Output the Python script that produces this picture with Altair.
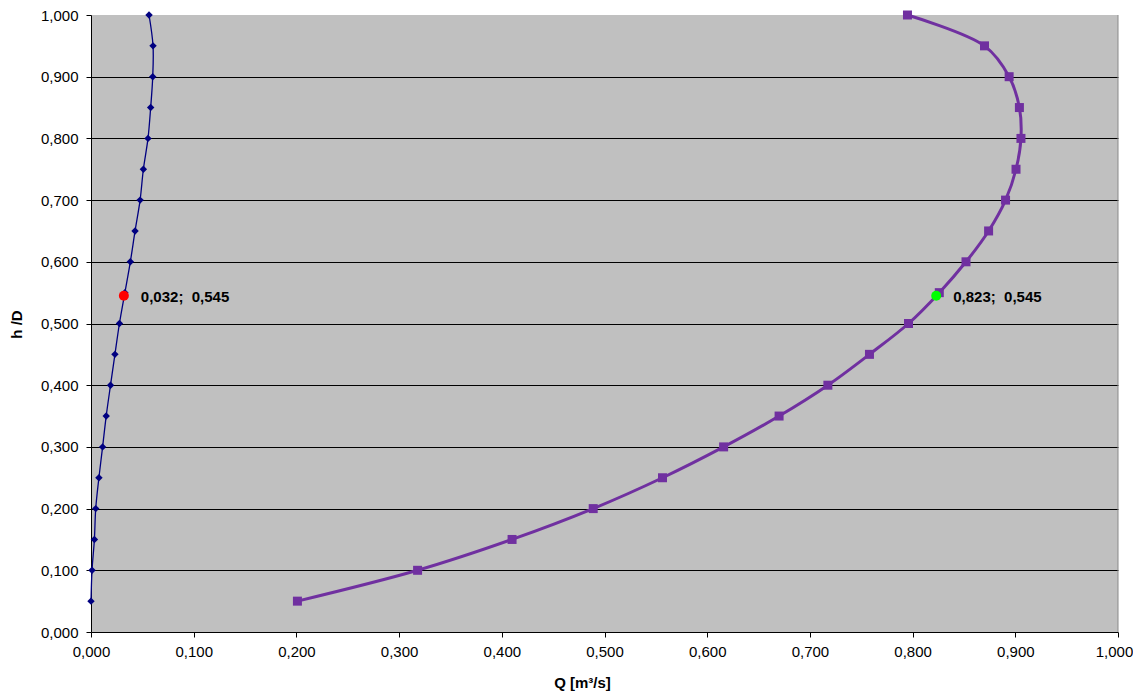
import altair as alt
import pandas as pd

# relative filling h/D
h_d = [0.05, 0.10, 0.15, 0.20, 0.25, 0.30, 0.35, 0.40, 0.45, 0.50,
       0.55, 0.60, 0.65, 0.70, 0.75, 0.80, 0.85, 0.90, 0.95, 1.00]
# flow Q [m3/s] for the small pipe (navy diamonds)
q_small = [0.000, 0.001, 0.0033, 0.0046, 0.0077, 0.0113, 0.0148, 0.019, 0.0233, 0.0277,
           0.033, 0.0383, 0.0429, 0.0478, 0.051, 0.0555, 0.0581, 0.0601, 0.0604, 0.0565]
# flow Q [m3/s] for the large pipe (purple squares)
q_large = [0.201, 0.318, 0.410, 0.489, 0.5565, 0.616, 0.670, 0.7175, 0.758, 0.796,
           0.826, 0.852, 0.874, 0.8905, 0.9007, 0.9055, 0.904, 0.894, 0.870, 0.795]

# highlighted operating points
op_q = [0.032, 0.823]
op_h = [0.545, 0.545]
op_label = ["0,032;\u00a0 0,545", "0,823;\u00a0 0,545"]
op_color = ["#FF0000", "#00FF00"]

ticks = [0.0, 0.1, 0.2, 0.3, 0.4, 0.5, 0.6, 0.7, 0.8, 0.9, 1.0]
border_q = [1.0]

FONT = "Liberation Sans"

small_df = pd.DataFrame({"h": h_d, "q": q_small})
large_df = pd.DataFrame({"h": h_d, "q": q_large})
op_df = pd.DataFrame({"q": op_q, "h": op_h, "label": op_label, "color": op_color})
border_df = pd.DataFrame({"q": border_q})

lab_expr = "replace(format(datum.value, '.3f'), '.', ',')"

x_scale = alt.Scale(domain=[0, 1], nice=False, zero=False, padding=0)
y_scale = alt.Scale(domain=[0, 1], nice=False, zero=False, padding=0)

x_axis = alt.Axis(
    values=ticks, labelExpr=lab_expr, grid=False, labelFlush=False, labelOverlap=False,
    labelOffset={"condition": {"test": "datum.value >= 1", "value": -4}, "value": 0},
    title="Q [m³/s]", titleFont=FONT, titleFontSize=15, titleFontWeight="bold",
    titleColor="#000000", titleX=491, titleY=50, titleAlign="center", titleBaseline="middle",
    labelFont=FONT, labelFontSize=15, labelColor="#000000", labelPadding=7,
    tickSize=5, tickColor="#000000", domainColor="#000000", domainWidth=1,
)
y_axis = alt.Axis(
    values=ticks, labelExpr=lab_expr, grid=True, labelFlush=False, labelOverlap=False,
    gridColor={"condition": {"test": "datum.value <= 0 || datum.value >= 1", "value": "transparent"},
               "value": "#000000"},
    gridWidth=1,
    title="h /D", titleFont=FONT, titleFontSize=15, titleFontWeight="bold",
    titleColor="#000000", titleX=-75, titleY=309, titleAngle=-90,
    titleAlign="center", titleBaseline="middle",
    labelFont=FONT, labelFontSize=15, labelColor="#000000", labelPadding=8,
    tickSize=5, tickColor="#000000", domainColor="#000000", domainWidth=1,
)

X = alt.X("q:Q", scale=x_scale, axis=x_axis)
Y = alt.Y("h:Q", scale=y_scale, axis=y_axis)

small_line = alt.Chart(small_df).mark_line(
    color="#000080", strokeWidth=1.3, interpolate="catmull-rom"
).encode(x=X, y=Y, order=alt.Order("h:Q"))
small_pts = alt.Chart(small_df).mark_point(
    shape="diamond", filled=True, color="#000080", size=55, opacity=1
).encode(x=X, y=Y)

large_line = alt.Chart(large_df).mark_line(
    color="#7030A0", strokeWidth=3, interpolate="catmull-rom"
).encode(x=X, y=Y, order=alt.Order("h:Q"))
large_pts = alt.Chart(large_df).mark_point(
    shape="square", filled=True, color="#7030A0", size=81, opacity=1
).encode(x=X, y=Y)

op_pts = alt.Chart(op_df).mark_circle(size=100, opacity=1).encode(
    x=X, y=Y, color=alt.Color("color:N", scale=None)
)
op_text = alt.Chart(op_df).mark_text(
    align="left", baseline="middle", dx=17, dy=1, font=FONT, fontSize=15,
    fontWeight="bold", color="#000000"
).encode(x=X, y=Y, text="label:N")

border = alt.Chart(border_df).mark_rule(color="#8a8a8a", strokeWidth=1).encode(
    x=X, y=alt.value(0), y2=alt.value(617)
)

chart = alt.layer(
    small_line, small_pts, large_line, large_pts, op_pts, op_text, border
).properties(
    width=1027, height=617,
    autosize=alt.AutoSizeParams(type="none"),
    padding={"left": 83, "top": 7, "right": 15, "bottom": 60},
).configure_view(
    fill="#C0C0C0", stroke=None
)

chart.save("out.html", embed_options={"renderer": "svg", "actions": False})
